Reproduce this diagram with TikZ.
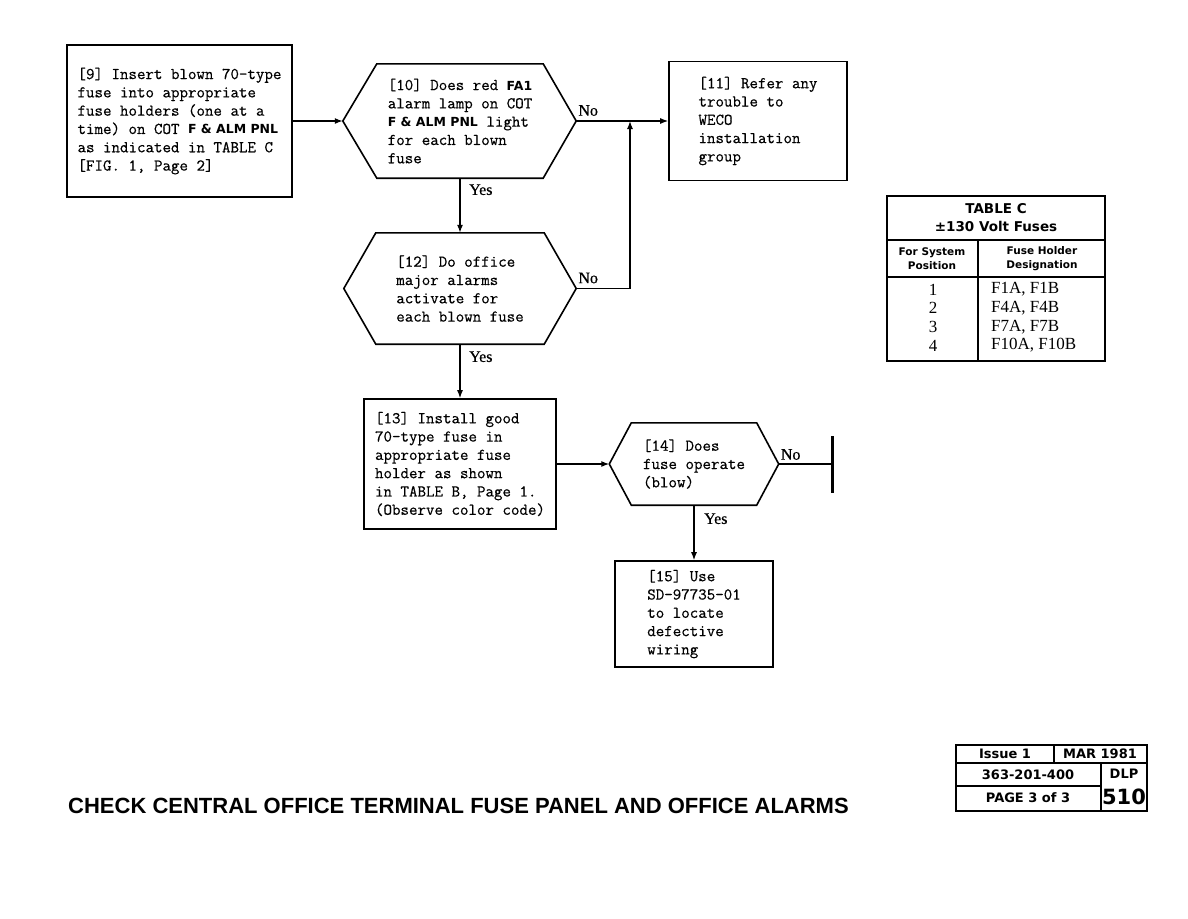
\documentclass[tikz,border=0pt]{standalone}
\usepackage{fontspec}
\usepackage{tikz}
\usetikzlibrary{
  arrows.meta,
  positioning
}
\newfontfamily\stepfont{Latin Modern Mono}[FakeBold=0.5]
\newfontfamily\tagfont{DejaVu Sans}
\newfontfamily\headfont{Liberation Sans}
\newfontfamily\cellfont{Liberation Serif}
\newfontfamily\yesfont{Liberation Serif}[FakeBold=0.6]
\newcommand\pnl[1]{{\tagfont\bfseries\fontsize{12.5}{18.3}\selectfont #1}}

\tikzset{
  stepbox/.style={draw, line width=1.6pt, inner sep=0pt, align=left,
    font=\stepfont\fontsize{16.5}{18.3}\selectfont},
  askbox/.style={inner sep=0pt, align=left,
    font=\stepfont\fontsize{16.5}{18.3}\selectfont},
  hexline/.style={line width=1.6pt, line join=miter},
  flow/.style={line width=1.3pt, -{Latex[length=8pt,width=6pt]}},
  plain/.style={line width=1.3pt},
  answer/.style={inner sep=0pt, font=\yesfont\fontsize{16}{16}\selectfont},
  grid/.style={line width=1.5pt},
  tagtext/.style={inner sep=0pt, align=center,
    font=\tagfont\bfseries\fontsize{13}{15}\selectfont}
}

\newcommand\hexframe[3]{% node, depth of left and right point
  \coordinate (#1-w) at ([xshift=-#2pt]#1.west);
  \coordinate (#1-e) at ([xshift=#3pt]#1.east);
  \draw[hexline] (#1.north west) -- (#1.north east) -- (#1-e) -- (#1.south east)
    -- (#1.south west) -- (#1-w) -- cycle;}

\begin{document}
\begin{tikzpicture}[x=1pt, y=-1pt]
\useasboundingbox (0,0) rectangle (1188,918);

% flow chart
\node[stepbox, minimum width=225pt, minimum height=152pt] (b9) at (179.5,121)
  {[9] Insert blown 70-type\\fuse into appropriate\\fuse holders (one at a\\time) on COT \pnl{F \& ALM PNL}\\as indicated in TABLE C\\{[FIG. 1, Page 2]}};
\node[askbox, minimum width=166pt, minimum height=114pt] (q10) at (460,121)
  {[10] Does red \pnl{FA1}\\alarm lamp on COT\\\pnl{F \& ALM PNL} light\\for each blown\\fuse};
\hexframe{q10}{34}{33}
\node[stepbox, minimum width=178pt, minimum height=119pt] (b11) at (758,121)
  {[11] Refer any\\trouble to\\WECO\\installation\\group};
\node[askbox, minimum width=168pt, minimum height=111pt] (q12) at (460,288.5)
  {[12] Do office\\major alarms\\activate for\\each blown fuse};
\hexframe{q12}{32}{32}
\node[stepbox, minimum width=192pt, minimum height=130pt] (b13) at (460,464)
  {[13] Install good\\70-type fuse in\\appropriate fuse\\holder as shown\\in TABLE B, Page 1.\\(Observe color code)};
\node[askbox, minimum width=125pt, minimum height=82pt] (q14) at (694,464)
  {[14] Does\\fuse operate\\(blow)};
\hexframe{q14}{22}{22}
\node[stepbox, minimum width=158pt, minimum height=106pt] (b15) at (694,614)
  {[15] Use\\SD-97735-01\\to locate\\defective\\wiring};

\coordinate (join) at (630,121);
\coordinate (stop) at (832,464);

\draw[flow] (b9) -- (q10-w);
\draw[flow] (q10-e) -- (b11);
\draw[flow] (q12-e) -| (join);
\draw[flow] (q10) -- (q12);
\draw[flow] (q12) -- (b13);
\draw[flow] (b13) -- (q14-w);
\draw[flow] (q14) -- (b15);
\draw[plain] (q14-e) -- (stop);
\draw[line width=3pt] ([yshift=28pt]stop) -- ([yshift=-29pt]stop);

\node[answer, above right=5pt and 2pt of q10-e] (no10) {No};
\node[answer, above right=5pt and 2pt of q12-e] (no12) {No};
\node[answer, above right=4pt and 2pt of q14-e] (no14) {No};
\node[answer, below right=6pt and 9pt of q10.south] (yes10) {Yes};
\node[answer, below right=7pt and 9pt of q12.south] (yes12) {Yes};
\node[answer, below right=8pt and 10pt of q14.south] (yes14) {Yes};

% table C
\draw[grid] (887,196) rectangle (1105,361);
\draw[grid] (887,240) -- (1105,240);
\draw[line width=2pt] (887,277) -- (1105,277);
\draw[grid] (978,240) -- (978,361);
\node[tagtext, font=\tagfont\bfseries\fontsize{13.5}{18}\selectfont] (tabc) at (996,218)
  {TABLE C\\±130 Volt Fuses};
\node[tagtext, font=\tagfont\bfseries\fontsize{10.5}{14}\selectfont] (colpos) at (932,259)
  {For System\\Position};
\node[tagtext, font=\tagfont\bfseries\fontsize{10.5}{14}\selectfont] (colhold) at (1042,259)
  {Fuse Holder\\Designation};
\node[inner sep=0pt, align=center, font=\cellfont\fontsize{17}{18.7}\selectfont] (posnum) at (933,317.5)
  {1\\2\\3\\4};
\node[inner sep=0pt, align=left, anchor=west, font=\cellfont\fontsize{17}{18.7}\selectfont] (posfuse) at (991,317.5)
  {F1A, F1B\\F4A, F4B\\F7A, F7B\\F10A, F10B};

% page tag
\draw[grid] (956,745) rectangle (1147,811);
\draw[grid] (956,763) -- (1147,763);
\draw[grid] (956,786) -- (1101,786);
\draw[grid] (1054,745) -- (1054,763);
\draw[grid] (1101,763) -- (1101,811);
\node[tagtext] (issue) at (1005,754) {Issue 1};
\node[tagtext] (date) at (1100,754) {MAR 1981};
\node[tagtext] (docno) at (1028,775) {363-201-400};
\node[tagtext] (dlp) at (1124,774) {DLP};
\node[tagtext] (pageno) at (1028,798) {PAGE 3 of 3};
\node[tagtext, font=\tagfont\bfseries\fontsize{21}{24}\selectfont] (dlpno) at (1124,797) {510};

\node[anchor=base west, inner sep=0pt, font=\headfont\bfseries\fontsize{22}{26}\selectfont] (title) at (68,813)
  {CHECK CENTRAL OFFICE TERMINAL FUSE PANEL AND OFFICE ALARMS};
\end{tikzpicture}
\end{document}
